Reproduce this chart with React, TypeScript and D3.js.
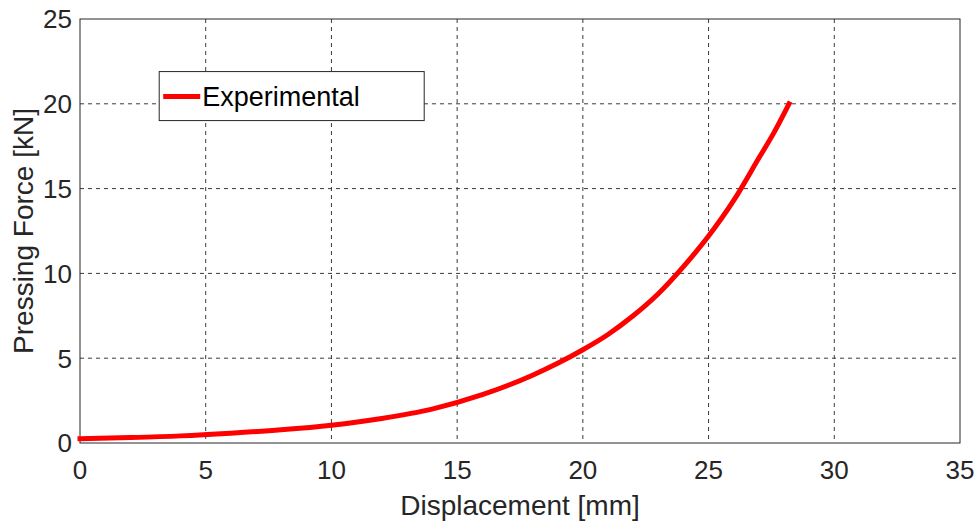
import React, { useRef, useEffect } from 'react'
import * as d3 from 'd3'

const displacement = [0, 2, 4, 6, 8, 10, 12, 14, 16, 18, 19, 20, 21, 22, 23, 24, 25, 26, 27, 27.6, 28.2]
const force = [0.25, 0.32, 0.42, 0.58, 0.78, 1.05, 1.45, 2.0, 2.85, 4.0, 4.7, 5.5, 6.4, 7.5, 8.8, 10.4, 12.2, 14.3, 16.8, 18.3, 20.0]
const xTicks = [0, 5, 10, 15, 20, 25, 30, 35]
const yTicks = [0, 5, 10, 15, 20, 25]
const seriesName = 'Experimental'

export default function App() {
  const svgRef = useRef<SVGSVGElement>(null)
  const width = 978
  const height = 523

  useEffect(() => {
    const svg = d3.select(svgRef.current)
    svg.selectAll('*').remove()

    const margin = { top: 19, right: 18, bottom: 80, left: 80 }
    const w = width - margin.left - margin.right
    const h = height - margin.top - margin.bottom
    const font = 'Arial, "Liberation Sans", sans-serif'

    svg.append('rect').attr('width', width).attr('height', height).attr('fill', '#fff')

    const g = svg.append('g').attr('transform', `translate(${margin.left},${margin.top})`)

    const x = d3.scaleLinear().domain([0, 35]).range([0, w])
    const y = d3.scaleLinear().domain([0, 25]).range([h, 0])

    // grid
    g.append('g')
      .selectAll('line')
      .data(xTicks.slice(1, -1))
      .join('line')
      .attr('x1', d => x(d)).attr('x2', d => x(d))
      .attr('y1', 0).attr('y2', h)
      .attr('stroke', '#3a3a3a').attr('stroke-width', 1)
      .attr('stroke-dasharray', '4,4')
    g.append('g')
      .selectAll('line')
      .data(yTicks.slice(1, -1))
      .join('line')
      .attr('y1', d => y(d)).attr('y2', d => y(d))
      .attr('x1', 0).attr('x2', w)
      .attr('stroke', '#3a3a3a').attr('stroke-width', 1)
      .attr('stroke-dasharray', '4,4')

    // box
    g.append('rect')
      .attr('width', w).attr('height', h)
      .attr('fill', 'none').attr('stroke', '#262626').attr('stroke-width', 1)

    // tick labels
    g.append('g')
      .selectAll('text')
      .data(xTicks)
      .join('text')
      .attr('x', d => x(d)).attr('y', h + 36)
      .attr('text-anchor', 'middle')
      .attr('font-family', font).attr('font-size', 26).attr('fill', '#262626')
      .text(d => d)
    g.append('g')
      .selectAll('text')
      .data(yTicks)
      .join('text')
      .attr('x', -8).attr('y', d => y(d))
      .attr('dy', '0.36em')
      .attr('text-anchor', 'end')
      .attr('font-family', font).attr('font-size', 26).attr('fill', '#262626')
      .text(d => d)

    // axis titles
    g.append('text')
      .attr('x', w / 2).attr('y', h + 72)
      .attr('text-anchor', 'middle')
      .attr('font-family', font).attr('font-size', 28).attr('fill', '#262626')
      .text('Displacement [mm]')
    g.append('text')
      .attr('transform', `translate(${-47},${h / 2}) rotate(-90)`)
      .attr('text-anchor', 'middle')
      .attr('font-family', font).attr('font-size', 28).attr('fill', '#262626')
      .text('Pressing Force [kN]')

    // curve
    const pts = displacement.map((d, i) => [d, force[i]] as [number, number])
    const line = d3.line<[number, number]>()
      .x(d => x(d[0]))
      .y(d => y(d[1]))
      .curve(d3.curveMonotoneX)
    g.append('path')
      .attr('d', line(pts))
      .attr('fill', 'none')
      .attr('stroke', '#ff0000')
      .attr('stroke-width', 5)
      .attr('stroke-linecap', 'square')

    // legend
    const lg = g.append('g').attr('transform', `translate(${x(3.15)},${y(21.9)})`)
    lg.append('rect')
      .attr('width', 265).attr('height', 49)
      .attr('fill', '#fff').attr('stroke', '#262626').attr('stroke-width', 1)
    lg.append('line')
      .attr('x1', 4).attr('x2', 41).attr('y1', 25).attr('y2', 25)
      .attr('stroke', '#ff0000').attr('stroke-width', 5)
    lg.append('text')
      .attr('x', 43).attr('y', 25).attr('dy', '0.36em')
      .attr('font-family', font).attr('font-size', 27).attr('fill', '#000')
      .text(seriesName)
  }, [])

  return (
    <svg
      ref={svgRef}
      width={width}
      height={height}
      style={{ position: 'absolute', left: 0, top: 0, display: 'block' }}
    />
  )
}
